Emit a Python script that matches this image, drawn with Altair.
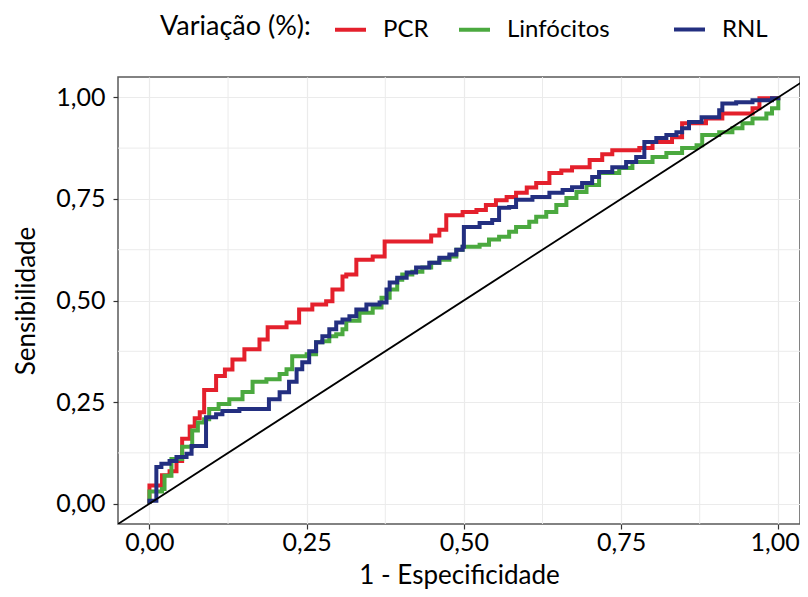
import altair as alt
import pandas as pd

SERIES = ["PCR", "Linfócitos", "RNL"]
COLORS = ["#E4202C", "#4BA93F", "#232F80"]

PCR_X = [0, 0, 0.020, 0.032, 0.043, 0.052, 0.064, 0.072, 0.080, 0.087, 0.106, 0.120, 0.132, 0.151,
         0.175, 0.188, 0.218, 0.238, 0.259, 0.281, 0.291, 0.307, 0.313, 0.329, 0.355, 0.374, 0.448,
         0.461, 0.472, 0.498, 0.520, 0.535, 0.551, 0.568, 0.583, 0.600, 0.615, 0.636, 0.655, 0.672,
         0.700, 0.720, 0.736, 0.779, 0.800, 0.831, 0.847, 0.885, 0.911, 0.959, 0.970, 1.000]
PCR_Y = [0, 0.045, 0.070, 0.080, 0.105, 0.160, 0.190, 0.210, 0.225, 0.280, 0.314, 0.330, 0.355, 0.380,
         0.404, 0.434, 0.446, 0.478, 0.490, 0.498, 0.527, 0.559, 0.564, 0.600, 0.608, 0.645, 0.660,
         0.674, 0.710, 0.718, 0.723, 0.735, 0.747, 0.755, 0.765, 0.778, 0.789, 0.814, 0.820, 0.828,
         0.846, 0.860, 0.870, 0.875, 0.890, 0.902, 0.936, 0.948, 0.960, 0.973, 0.998, 1.000]

LIN_X = [0, 0, 0.020, 0.024, 0.035, 0.052, 0.068, 0.077, 0.087, 0.095, 0.110, 0.127, 0.148, 0.164,
         0.186, 0.207, 0.218, 0.227, 0.250, 0.265, 0.275, 0.286, 0.297, 0.307, 0.313, 0.334, 0.355,
         0.369, 0.382, 0.394, 0.402, 0.418, 0.434, 0.448, 0.461, 0.477, 0.488, 0.498, 0.525, 0.540,
         0.556, 0.572, 0.583, 0.604, 0.615, 0.631, 0.647, 0.663, 0.679, 0.695, 0.715, 0.747, 0.768,
         0.800, 0.822, 0.847, 0.870, 0.879, 0.906, 0.927, 0.943, 0.959, 0.981, 0.990, 1.000, 1.000]
LIN_Y = [0, 0.030, 0.036, 0.069, 0.110, 0.140, 0.180, 0.200, 0.208, 0.233, 0.245, 0.257, 0.275, 0.300,
         0.306, 0.319, 0.331, 0.363, 0.368, 0.397, 0.400, 0.412, 0.417, 0.429, 0.450, 0.470, 0.483,
         0.507, 0.527, 0.551, 0.564, 0.571, 0.581, 0.593, 0.600, 0.608, 0.625, 0.632, 0.637, 0.650,
         0.657, 0.669, 0.681, 0.694, 0.706, 0.718, 0.735, 0.752, 0.767, 0.784, 0.814, 0.826, 0.841,
         0.853, 0.863, 0.875, 0.882, 0.907, 0.914, 0.924, 0.936, 0.948, 0.960, 0.973, 0.985, 1.000]

RNL_X = [0, 0, 0.011, 0.019, 0.032, 0.043, 0.059, 0.067, 0.090, 0.106, 0.116, 0.143, 0.190, 0.207,
         0.222, 0.234, 0.243, 0.254, 0.265, 0.275, 0.286, 0.297, 0.307, 0.318, 0.329, 0.345, 0.366,
         0.377, 0.382, 0.394, 0.409, 0.424, 0.445, 0.461, 0.477, 0.488, 0.498, 0.500, 0.525, 0.545,
         0.556, 0.572, 0.583, 0.609, 0.636, 0.657, 0.672, 0.688, 0.704, 0.715, 0.736, 0.758, 0.774,
         0.787, 0.806, 0.822, 0.838, 0.847, 0.858, 0.878, 0.906, 0.911, 0.933, 0.959, 0.990, 1.000]
RNL_Y = [0, 0.007, 0.090, 0.098, 0.105, 0.115, 0.123, 0.142, 0.213, 0.220, 0.228, 0.233, 0.257, 0.274,
         0.300, 0.331, 0.348, 0.375, 0.397, 0.412, 0.429, 0.446, 0.453, 0.461, 0.478, 0.490, 0.495,
         0.527, 0.544, 0.556, 0.569, 0.581, 0.593, 0.605, 0.613, 0.625, 0.632, 0.681, 0.691, 0.698,
         0.728, 0.730, 0.748, 0.755, 0.765, 0.772, 0.779, 0.789, 0.804, 0.816, 0.828, 0.841, 0.853,
         0.890, 0.900, 0.907, 0.914, 0.924, 0.939, 0.951, 0.968, 0.985, 0.988, 0.993, 0.998, 1.000]

MAJOR = [0, 0.25, 0.5, 0.75, 1.0]
MINOR = [0.125, 0.375, 0.625, 0.875]
DIAG = [-0.1, 1.1]

FONT = "Lato"


def table(items):
    rows = []
    for name, xs, ys in items:
        for i, (a, b) in enumerate(zip(xs, ys)):
            rows.append({"fpr": a, "tpr": b, "serie": name, "ord": i})
    return pd.DataFrame(rows)


df_a = table([("PCR", PCR_X, PCR_Y), ("Linfócitos", LIN_X, LIN_Y)])
df_b = table([("RNL", RNL_X, RNL_Y)])

xscale = alt.Scale(domain=[-0.05, 1.0345], nice=False, zero=False)
yscale = alt.Scale(domain=[-0.05, 1.05], nice=False, zero=False)
lab = "replace(format(datum.value, '.2f'), '.', ',')"
xaxis = alt.Axis(values=MAJOR, labelExpr=lab, title="1 - Especificidade",
                 labelFlush=25, labelFlushOffset=21)
yaxis = alt.Axis(values=MAJOR, labelExpr=lab, title="Sensibilidade")


def X():
    return alt.X("fpr:Q", scale=xscale, axis=xaxis)


def Y():
    return alt.Y("tpr:Q", scale=yscale, axis=yaxis)


LEG = dict(
    orient="none",
    legendY=-65,
    direction="horizontal",
    labelFontSize=24,
    labelFont=FONT,
    labelColor="black",
    labelOffset=15,
    columnPadding=22,
    symbolType="stroke",
    symbolStrokeWidth=4,
    symbolSize=961,
)

minor_x = alt.Chart(pd.DataFrame({"fpr": MINOR})).mark_rule(color="#ebebeb", strokeWidth=1).encode(x=X())
minor_y = alt.Chart(pd.DataFrame({"tpr": MINOR})).mark_rule(color="#ebebeb", strokeWidth=1).encode(y=Y())

lines_a = alt.Chart(df_a).mark_line(interpolate="step-after", strokeWidth=4, clip=True).encode(
    x=X(),
    y=Y(),
    order="ord:Q",
    color=alt.Color(
        "serie:N",
        scale=alt.Scale(domain=SERIES[:2], range=COLORS[:2]),
        legend=alt.Legend(
            legendX=42,
            columns=2,
            title="Variação (%):",
            titleOrient="left",
            titleFontSize=27,
            titleFont=FONT,
            titleFontWeight="normal",
            titleColor="black",
            titlePadding=22,
            titleBaseline="middle",
            **LEG,
        ),
    ),
)

lines_b = alt.Chart(df_b).mark_line(interpolate="step-after", strokeWidth=4, clip=True).encode(
    x=X(),
    y=Y(),
    order="ord:Q",
    stroke=alt.Stroke(
        "serie:N",
        scale=alt.Scale(domain=SERIES[2:], range=COLORS[2:]),
        legend=alt.Legend(legendX=554, columns=1, title=None, **LEG),
    ),
)

diag = alt.Chart(pd.DataFrame({"fpr": DIAG, "tpr": DIAG})).mark_line(
    color="black", strokeWidth=1.8, clip=True
).encode(x=X(), y=Y())

chart = alt.layer(minor_x, minor_y, lines_a, lines_b, diag).properties(
    width=682,
    height=447,
    autosize=alt.AutoSizeParams(type="none"),
    padding={"left": 110, "top": 69, "right": 0, "bottom": 65},
).configure_view(
    stroke="#5a5a5a", strokeWidth=1.5
).configure_axis(
    grid=True,
    gridColor="#ebebeb",
    gridWidth=1.2,
    domain=False,
    tickColor="#333333",
    tickSize=5,
    tickWidth=1.2,
    labelFont=FONT,
    labelFontSize=25,
    labelColor="black",
    titleFont=FONT,
    titleFontSize=26,
    titleFontWeight="normal",
    titleColor="black",
).configure_axisX(
    labelPadding=1, titlePadding=7
).configure_axisY(
    labelPadding=8, titlePadding=16
)

chart.save("out.html", embed_options={"renderer": "svg", "actions": False})
